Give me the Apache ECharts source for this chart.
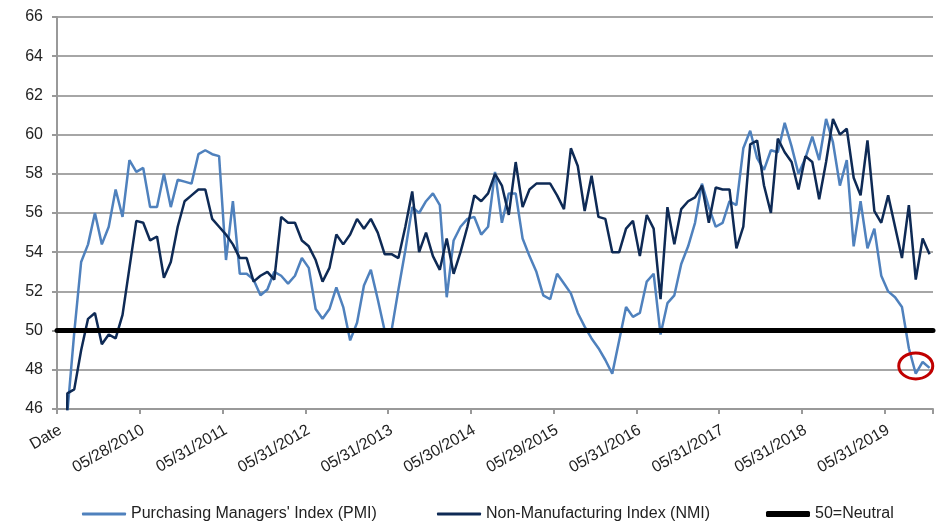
<!DOCTYPE html>
<html>
<head>
<meta charset="utf-8">
<title>PMI vs NMI</title>
<script src="https://cdn.jsdelivr.net/npm/echarts@6/dist/echarts.min.js"></script>
<style>
html,body{margin:0;padding:0;background:#fff;}
#main{width:936px;height:523px;}
</style>
</head>
<body>
<div id="main"></div>
<script>
// one label every 12 months, the first one is the sheet header
var tickLabels = ['Date', '05/28/2010', '05/31/2011', '05/31/2012', '05/31/2013', '05/30/2014',
    '05/29/2015', '05/31/2016', '05/31/2017', '05/31/2018', '05/31/2019'];

// monthly readings Jun 2009 .. Nov 2019, first slot is the "Date" header row (plotted as 0)
var pmi = [0,
    45.8, 49.9, 53.5, 54.4, 56.0, 54.4, 55.3, 57.2, 55.8, 58.7, 58.1, 58.3,
    56.3, 56.3, 58.0, 56.3, 57.7, 57.6, 57.5, 59.0, 59.2, 59.0, 58.9, 53.6,
    56.6, 52.9, 52.9, 52.6, 51.8, 52.1, 53.0, 52.8, 52.4, 52.8, 53.7, 53.2,
    51.1, 50.6, 51.1, 52.2, 51.2, 49.5, 50.4, 52.3, 53.1, 51.6, 50.0, 50.0,
    52.1, 54.1, 56.3, 56.0, 56.6, 57.0, 56.4, 51.7, 54.6, 55.3, 55.7, 55.8,
    54.9, 55.3, 58.1, 55.5, 57.0, 57.0, 54.7, 53.8, 53.0, 51.8, 51.6, 52.9,
    52.4, 51.9, 50.9, 50.2, 49.6, 49.1, 48.5, 47.8, 49.5, 51.2, 50.7, 50.9,
    52.5, 52.9, 49.8, 51.4, 51.8, 53.4, 54.3, 55.5, 57.5, 56.3, 55.3, 55.5,
    56.6, 56.4, 59.3, 60.2, 58.8, 58.2, 59.2, 59.1, 60.6, 59.4, 58.0, 58.8,
    59.9, 58.7, 60.8, 59.6, 57.4, 58.7, 54.3, 56.6, 54.2, 55.2, 52.8, 52.0,
    51.7, 51.2, 49.1, 47.8, 48.4, 48.1];

var nmi = [0,
    46.8, 47.0, 49.0, 50.6, 50.9, 49.3, 49.8, 49.6, 50.8, 53.2, 55.6, 55.5,
    54.6, 54.8, 52.7, 53.5, 55.3, 56.6, 56.9, 57.2, 57.2, 55.7, 55.3, 54.9,
    54.4, 53.7, 53.7, 52.5, 52.8, 53.0, 52.6, 55.8, 55.5, 55.5, 54.6, 54.3,
    53.6, 52.5, 53.2, 54.9, 54.4, 54.9, 55.7, 55.2, 55.7, 55.0, 53.9, 53.9,
    53.7, 55.3, 57.1, 54.0, 55.0, 53.8, 53.1, 54.7, 52.9, 54.0, 55.3, 56.9,
    56.6, 57.0, 58.0, 57.4, 55.9, 58.6, 56.3, 57.2, 57.5, 57.5, 57.5, 56.9,
    56.2, 59.3, 58.4, 56.1, 57.9, 55.8, 55.7, 54.0, 54.0, 55.2, 55.6, 53.8,
    55.9, 55.2, 51.6, 56.3, 54.4, 56.2, 56.6, 56.8, 57.4, 55.5, 57.3, 57.2,
    57.2, 54.2, 55.3, 59.5, 59.7, 57.4, 56.0, 59.8, 59.1, 58.6, 57.2, 58.9,
    58.6, 56.7, 58.6, 60.8, 60.0, 60.3, 57.8, 56.9, 59.7, 56.1, 55.5, 56.9,
    55.3, 53.7, 56.4, 52.6, 54.7, 53.9];

var NEUTRAL = 50;
var names = ["Purchasing Managers' Index (PMI)", 'Non-Manufacturing Index (NMI)', '50=Neutral'];
var colors = ['#4f81bd', '#0e2a55', '#000000'];
// the red ring sits on the last three PMI readings
var ringAt = [124, 48.2];

var categories = ['Date'];
for (var i = 1; i < pmi.length; i++) {
    if (i % 12 === 0) {
        categories.push(tickLabels[i / 12]);
    } else {
        var m = (5 + i - 1) % 12 + 1, y = 2009 + Math.floor((5 + i - 1) / 12);
        categories.push((m < 10 ? '0' : '') + m + '/' + y);
    }
}

var font = 'Liberation Sans, Arial, sans-serif';
var chart = echarts.init(document.getElementById('main'), null, {renderer: 'canvas'});

function legendFor(name, left, thick) {
    return {
        data: [{name: name, icon: 'roundRect'}],
        left: left,
        top: 506,
        itemWidth: 44,
        itemHeight: thick,
        itemGap: 0,
        padding: 0,
        selectedMode: false,
        textStyle: {fontFamily: font, fontSize: 16, color: '#222'}
    };
}

chart.setOption({
    animation: false,
    grid: {left: 57, right: 3, top: 17, bottom: 114},
    legend: [
        legendFor(names[0], 82, 3),
        legendFor(names[1], 437, 3),
        legendFor(names[2], 766, 6)
    ],
    xAxis: {
        type: 'category',
        data: categories,
        boundaryGap: true,
        axisLine: {lineStyle: {color: '#999', width: 2}},
        axisTick: {show: true, interval: 11, length: 5, lineStyle: {color: '#999', width: 2}},
        axisLabel: {
            interval: 11,
            rotate: 30,
            margin: 20,
            fontFamily: font,
            fontSize: 16,
            color: '#222'
        },
        splitLine: {show: false}
    },
    yAxis: {
        type: 'value',
        min: 46,
        max: 66,
        interval: 2,
        axisLine: {show: true, lineStyle: {color: '#999', width: 2}},
        axisTick: {show: true, length: 5, lineStyle: {color: '#999', width: 2}},
        axisLabel: {margin: 14, fontFamily: font, fontSize: 16, color: '#222'},
        splitLine: {lineStyle: {color: '#a6a6a6', width: 2}}
    },
    series: [
        {
            name: names[0],
            type: 'line',
            data: pmi,
            symbol: 'none',
            lineStyle: {color: colors[0], width: 2.5},
            itemStyle: {color: colors[0]}
        },
        {
            name: names[1],
            type: 'line',
            data: nmi,
            symbol: 'none',
            lineStyle: {color: colors[1], width: 2.5},
            itemStyle: {color: colors[1]}
        },
        {
            name: names[2],
            type: 'line',
            data: [],
            symbol: 'none',
            lineStyle: {color: colors[2], width: 5},
            itemStyle: {color: colors[2]},
            markLine: {
                silent: true,
                symbol: 'none',
                label: {show: false},
                lineStyle: {color: colors[2], width: 5, type: 'solid', cap: 'round'},
                data: [{yAxis: NEUTRAL}]
            }
        }
    ]
});

var c = chart.convertToPixel({xAxisIndex: 0, yAxisIndex: 0}, ringAt);
chart.setOption({
    graphic: [{
        type: 'ellipse',
        shape: {cx: c[0], cy: c[1], rx: 17, ry: 13},
        style: {fill: 'none', stroke: '#c00000', lineWidth: 3},
        z: 100
    }]
});
</script>
</body>
</html>
